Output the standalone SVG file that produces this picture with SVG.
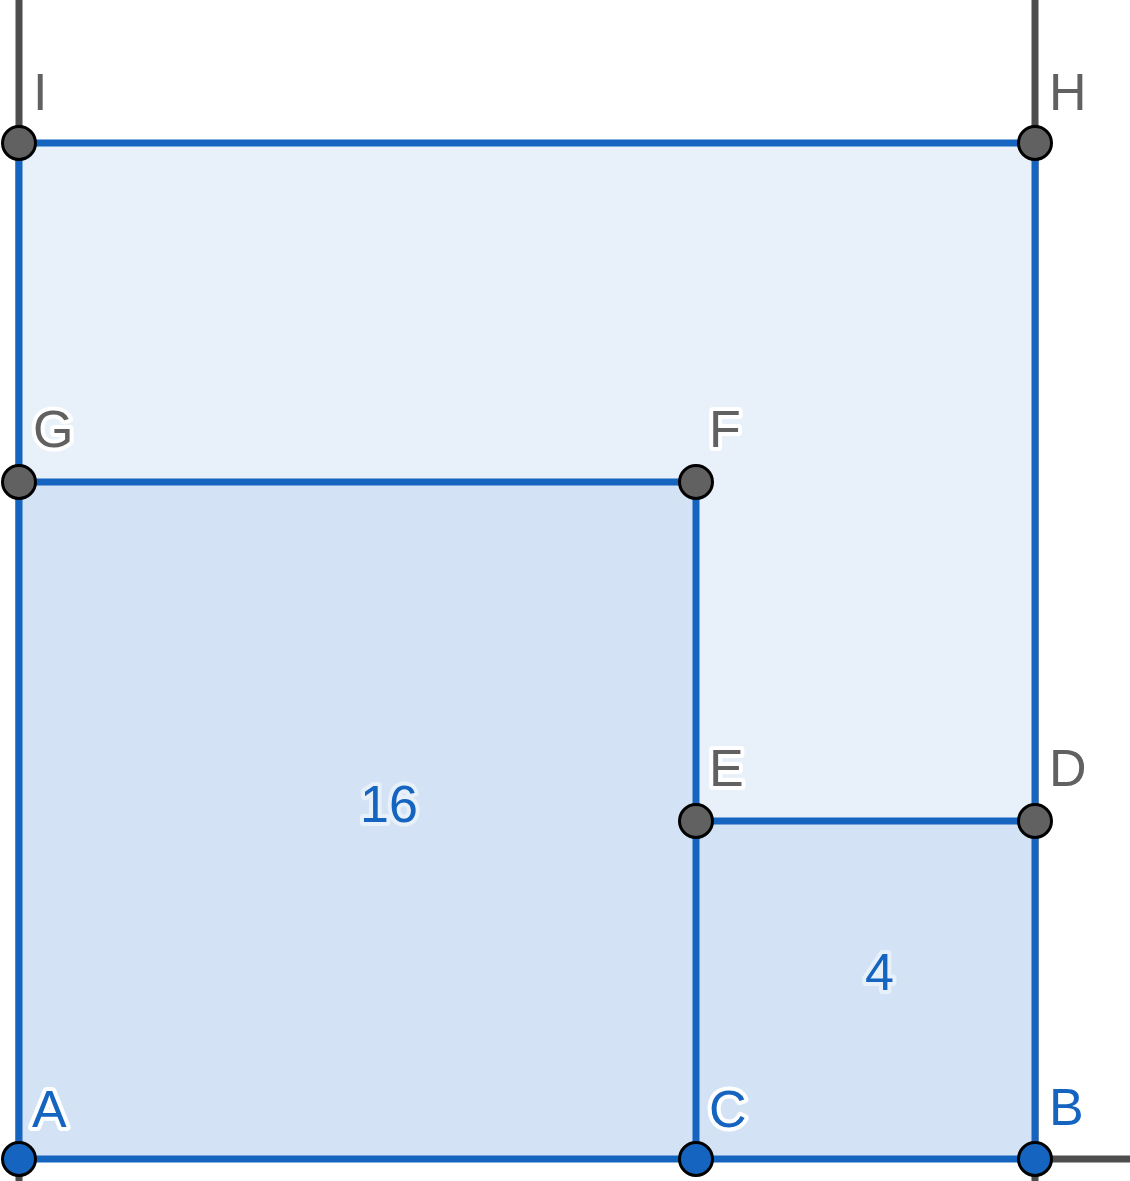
<svg xmlns="http://www.w3.org/2000/svg" width="1130" height="1181" viewBox="0 0 1130 1181">
<style>
.axis{stroke:#4d4d4d;stroke-width:7;fill:none}
.edge{stroke:#1565c0;stroke-width:7;fill:none;stroke-linecap:butt}
.pt{stroke:#000;stroke-width:3}
.gray{fill:#616161}
.blue{fill:#1565c0}
.lbl{font-family:"Liberation Sans",Arial,sans-serif;font-size:52px;stroke:#fff;stroke-width:8;stroke-linejoin:round;paint-order:stroke fill}
</style>
<rect width="1130" height="1181" fill="#fff"/>
<g id="lines">
<line class="axis" x1="19" y1="0" x2="19" y2="1181"/>
<line class="axis" x1="1035" y1="0" x2="1035" y2="1181"/>
<line class="axis" x1="1035" y1="1159" x2="1130" y2="1159"/>
</g>
<g id="regions">
<rect x="19" y="143" width="1016" height="1016" fill="#e8f0fa"/>
<rect x="19" y="482" width="677" height="677" fill="#d3e3f5"/>
<rect x="696" y="821" width="339" height="338" fill="#d3e3f5"/>
</g>
<g id="connectors">
<polyline class="edge" points="19,1159 19,143 1035,143 1035,1159 19,1159"/>
<polyline class="edge" points="19,482 696,482 696,1159"/>
<line class="edge" x1="696" y1="821" x2="1035" y2="821"/>
</g>
<g id="node-I"><circle class="pt gray" cx="19" cy="143" r="16.5"/><text class="lbl gray" x="33" y="110">I</text></g>
<g id="node-H"><circle class="pt gray" cx="1035" cy="143" r="16.5"/><text class="lbl gray" x="1049" y="110">H</text></g>
<g id="node-G"><circle class="pt gray" cx="19" cy="482" r="16.5"/><text class="lbl gray" x="33" y="447">G</text></g>
<g id="node-F"><circle class="pt gray" cx="696" cy="482" r="16.5"/><text class="lbl gray" x="709" y="447">F</text></g>
<g id="node-E"><circle class="pt gray" cx="696" cy="821" r="16.5"/><text class="lbl gray" x="709" y="786">E</text></g>
<g id="node-D"><circle class="pt gray" cx="1035" cy="821" r="16.5"/><text class="lbl gray" x="1049" y="786">D</text></g>
<g id="node-A"><circle class="pt blue" cx="19" cy="1159" r="16.5"/><text class="lbl blue" x="32" y="1127">A</text></g>
<g id="node-C"><circle class="pt blue" cx="696" cy="1159" r="16.5"/><text class="lbl blue" x="709" y="1127">C</text></g>
<g id="node-B"><circle class="pt blue" cx="1035" cy="1159" r="16.5"/><text class="lbl blue" x="1049" y="1125">B</text></g>
<g id="area-labels">
<text class="lbl blue" x="360" y="822" style="stroke:#e8f0fa">16</text>
<text class="lbl blue" x="865" y="990" style="stroke:#e8f0fa">4</text>
</g>
</svg>
